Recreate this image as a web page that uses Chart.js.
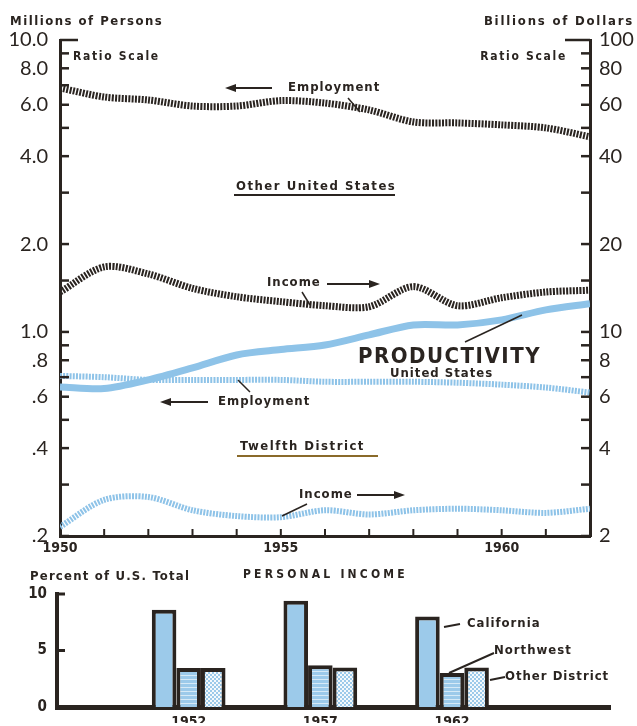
<!DOCTYPE html>
<html>
<head>
<meta charset="utf-8">
<script src="https://cdn.jsdelivr.net/npm/chart.js@4.4.0/dist/chart.umd.min.js"></script>
<style>
  html, body { margin: 0; padding: 0; background: #fff; }
  #wrap { position: relative; width: 637px; height: 726px; overflow: hidden; }
  #topChart { position: absolute; left: 0; top: 0; }
  #barChart { position: absolute; left: 0; top: 560px; }
</style>
</head>
<body>
<div id="wrap">
  <canvas id="topChart" width="637" height="560"></canvas>
  <canvas id="barChart" width="637" height="166"></canvas>
</div>
<script>
// --- data: line chart (ratio scale) ---
const years = [1950, 1951, 1952, 1953, 1954, 1955, 1956, 1957, 1958, 1959, 1960, 1961, 1962];
// millions of persons (left scale)
const otherEmployment = [6.85, 6.38, 6.23, 5.94, 5.94, 6.2, 6.08, 5.76, 5.24, 5.2, 5.12, 5.0, 4.66];
const twelfthEmployment = [0.707, 0.70, 0.685, 0.685, 0.685, 0.685, 0.675, 0.675, 0.675, 0.67, 0.66, 0.645, 0.62];
const usProductivity = [0.648, 0.64, 0.685, 0.753, 0.834, 0.87, 0.902, 0.977, 1.057, 1.057, 1.10, 1.19, 1.25];
// billions of dollars (right scale)
const otherIncome = [13.7, 16.7, 15.8, 14.1, 13.2, 12.7, 12.3, 12.2, 14.3, 12.3, 13.1, 13.7, 13.9];
const twelfthIncome = [2.15, 2.66, 2.72, 2.45, 2.34, 2.32, 2.45, 2.37, 2.45, 2.48, 2.45, 2.4, 2.48];

// tick labels
const leftTicks = [0.2, 0.3, 0.4, 0.5, 0.6, 0.7, 0.8, 0.9, 1, 1.5, 2, 3, 4, 5, 6, 7, 8, 9, 10];
const leftLabels = { 10: '10.0', 8: '8.0', 6: '6.0', 4: '4.0', 2: '2.0', 1: '1.0', 0.8: '.8', 0.6: '.6', 0.4: '.4', 0.2: '.2' };
const rightTicks = [2, 3, 4, 5, 6, 7, 8, 9, 10, 15, 20, 30, 40, 50, 60, 70, 80, 90, 100];
const rightLabels = { 100: '100', 80: '80', 60: '60', 40: '40', 20: '20', 10: '10', 8: '8', 6: '6', 4: '4', 2: '2' };
const yearLabels = [1950, 1955, 1960];

// --- data: personal income bars (percent of U.S. total) ---
const barYears = [1952, 1957, 1962];
const california = [8.6, 9.4, 8.0];
const northwest = [3.45, 3.7, 3.0];
const otherDistrict = [3.45, 3.5, 3.5];

const ink = '#2a2420';
const blue = '#8ec3e8';
const cond = "'DejaVu Sans Condensed', 'DejaVu Sans', sans-serif";
const numFont = "Lato, 'DejaVu Sans', sans-serif";

function text(ctx, s, x, y, font, align, spacing, color) {
  ctx.save();
  ctx.font = font;
  ctx.fillStyle = color || ink;
  ctx.textAlign = align || 'left';
  ctx.textBaseline = 'middle';
  ctx.letterSpacing = (spacing || 0) + 'px';
  ctx.fillText(s, x, y);
  ctx.restore();
}

function line(ctx, x1, y1, x2, y2, w, color) {
  ctx.save();
  ctx.strokeStyle = color || ink;
  ctx.lineWidth = w || 1.5;
  ctx.beginPath();
  ctx.moveTo(x1, y1);
  ctx.lineTo(x2, y2);
  ctx.stroke();
  ctx.restore();
}

function arrow(ctx, x1, y, x2) {
  const dir = x2 > x1 ? 1 : -1;
  line(ctx, x1, y, x2 - dir * 8, y, 2);
  ctx.save();
  ctx.fillStyle = ink;
  ctx.beginPath();
  ctx.moveTo(x2, y);
  ctx.lineTo(x2 - dir * 11, y - 4);
  ctx.lineTo(x2 - dir * 11, y + 4);
  ctx.closePath();
  ctx.fill();
  ctx.restore();
}

// tick marks pointing into the plot, plus the text notes
const topDecor = {
  id: 'topDecor',
  afterDraw(chart) {
    const ctx = chart.ctx;
    const a = chart.chartArea;
    const yl = chart.scales.y;
    const x = chart.scales.x;

    leftTicks.forEach(v => {
      const py = yl.getPixelForValue(v);
      line(ctx, a.left, py, a.left + (v === 10 ? 18 : 9), py, 2.5);
      line(ctx, a.right - (v === 10 ? 25 : 9), py, a.right, py, 2.5);
    });
    years.forEach(v => {
      const px = x.getPixelForValue(v);
      line(ctx, px, a.bottom, px, a.bottom - 7, 2);
    });

    text(ctx, 'Millions of Persons', 10, 22, 'bold 13px ' + cond, 'left', 1.5);
    text(ctx, 'Billions of Dollars', 634, 22, 'bold 13px ' + cond, 'right', 1.8);
    text(ctx, 'Ratio Scale', 73, 57, 'bold 12px ' + cond, 'left', 1.7);
    text(ctx, 'Ratio Scale', 567, 57, 'bold 12px ' + cond, 'right', 1.7);

    const lab = 'bold 13px ' + cond;
    arrow(ctx, 272, 88, 225);
    text(ctx, 'Employment', 288, 88, lab, 'left', 1);
    line(ctx, 348, 98, 360, 112);

    text(ctx, 'Other United States', 236, 187, lab, 'left', 1.5);
    line(ctx, 234, 195, 395, 195, 2);

    text(ctx, 'Income', 267, 283, lab, 'left', 1);
    arrow(ctx, 327, 284, 380);
    line(ctx, 302, 292, 310, 305);

    text(ctx, 'PRODUCTIVITY', 358, 357, 'bold 22px ' + cond, 'left', 1.5);
    text(ctx, 'United States', 390, 374, lab, 'left', 1);
    line(ctx, 465, 342, 522, 315);

    arrow(ctx, 208, 402, 160);
    text(ctx, 'Employment', 218, 402, lab, 'left', 1);
    line(ctx, 238, 380, 250, 392);

    text(ctx, 'Twelfth District', 240, 447, lab, 'left', 1.5);
    line(ctx, 237, 456, 378, 456, 2, '#8a6a2a');

    text(ctx, 'Income', 299, 495, lab, 'left', 1);
    arrow(ctx, 357, 495, 405);
    line(ctx, 307, 504, 282, 516);
  }
};

const series = (data, axis, color, dash, width) => ({
  data: years.map((yr, i) => ({ x: yr, y: data[i] })),
  yAxisID: axis,
  borderColor: color,
  borderWidth: width,
  borderDash: dash,
  pointRadius: 0,
  tension: 0.3,
  fill: false
});

new Chart(document.getElementById('topChart'), {
  type: 'line',
  data: {
    datasets: [
      series(otherEmployment, 'y', ink, [2, 1.3], 7),
      series(otherIncome, 'y1', ink, [2, 1.3], 7),
      series(usProductivity, 'y', blue, [], 7),
      series(twelfthEmployment, 'y', blue, [2, 1.2], 6),
      series(twelfthIncome, 'y1', blue, [2, 1.2], 6)
    ]
  },
  options: {
    responsive: false,
    animation: false,
    layout: { padding: { top: 40, left: 0, right: 0, bottom: 0 } },
    plugins: { legend: { display: false }, tooltip: { enabled: false } },
    scales: {
      x: {
        type: 'linear',
        min: 1950,
        max: 1962,
        afterBuildTicks: s => { s.ticks = yearLabels.map(v => ({ value: v })); },
        afterFit: s => { s.height = 24; },
        grid: { display: false, drawTicks: false },
        border: { display: true, color: ink, width: 3 },
        ticks: { padding: 4, color: ink, font: { family: cond, size: 14, weight: 'bold' }, maxRotation: 0, callback: v => String(v) }
      },
      y: {
        type: 'logarithmic',
        position: 'left',
        min: 0.2,
        max: 10,
        afterBuildTicks: s => { s.ticks = leftTicks.map(v => ({ value: v })); },
        afterFit: s => { s.width = 60; },
        grid: { display: false, drawTicks: false },
        border: { display: true, color: ink, width: 3 },
        ticks: { autoSkip: false, padding: 12, color: ink, font: { family: numFont, size: 20 }, callback: v => leftLabels[v] || '' }
      },
      y1: {
        type: 'logarithmic',
        position: 'right',
        min: 2,
        max: 100,
        afterBuildTicks: s => { s.ticks = rightTicks.map(v => ({ value: v })); },
        afterFit: s => { s.width = 47; },
        grid: { display: false, drawTicks: false },
        border: { display: true, color: ink, width: 3 },
        ticks: { autoSkip: false, padding: 9, color: ink, font: { family: numFont, size: 20 }, callback: v => rightLabels[v] || '' }
      }
    }
  },
  plugins: [topDecor]
});

// --- bar chart fills ---
function makePattern(w, h, draw) {
  const c = document.createElement('canvas');
  c.width = w;
  c.height = h;
  draw(c.getContext('2d'));
  return document.getElementById('barChart').getContext('2d').createPattern(c, 'repeat');
}
const lineFill = makePattern(4, 4, g => {
  g.fillStyle = '#9ccaea'; g.fillRect(0, 0, 4, 4);
  g.fillStyle = '#d6eaf7'; g.fillRect(0, 3, 4, 1);
});
const dotFill = makePattern(4, 4, g => {
  g.fillStyle = '#f4f9fc'; g.fillRect(0, 0, 4, 4);
  g.fillStyle = '#9ccaea'; g.fillRect(0, 0, 2, 2); g.fillRect(2, 2, 2, 2);
});

const barDecor = {
  id: 'barDecor',
  afterDraw(chart) {
    const ctx = chart.ctx;
    const a = chart.chartArea;
    const y = chart.scales.y;
    [5, 10].forEach(v => line(ctx, a.left, y.getPixelForValue(v), a.left + 8, y.getPixelForValue(v), 3));
    text(ctx, 'Percent of U.S. Total', 30, 17, 'bold 13px ' + cond, 'left', 1.2);
    text(ctx, 'PERSONAL INCOME', 243, 15, 'bold 12px ' + cond, 'left', 3.2);
    const lab = 'bold 13px ' + cond;
    line(ctx, 444, 67, 460, 64, 2);
    text(ctx, 'California', 467, 64, lab, 'left', 1);
    line(ctx, 449, 113, 494, 93, 2);
    text(ctx, 'Northwest', 494, 91, lab, 'left', 1);
    line(ctx, 490, 120, 505, 117, 2);
    text(ctx, 'Other District', 505, 117, lab, 'left', 1);
  }
};

const barSet = (data, fill) => ({
  data: barYears.map((yr, i) => ({ x: yr, y: data[i] })),
  backgroundColor: fill,
  borderColor: ink,
  borderWidth: 4,
  barPercentage: 1,
  categoryPercentage: 0.56
});

new Chart(document.getElementById('barChart'), {
  type: 'bar',
  data: {
    datasets: [
      barSet(california, '#9ccaea'),
      barSet(northwest, lineFill),
      barSet(otherDistrict, dotFill)
    ]
  },
  options: {
    responsive: false,
    animation: false,
    layout: { padding: { top: 34, left: 0, right: 27, bottom: 0 } },
    plugins: { legend: { display: false }, tooltip: { enabled: false } },
    scales: {
      x: {
        type: 'linear',
        offset: false,
        min: 1947,
        max: 1968,
        afterBuildTicks: s => { s.ticks = barYears.map(v => ({ value: v })); },
        afterFit: s => { s.height = 16; },
        grid: { display: false, drawTicks: false, offset: false },
        border: { display: true, color: ink, width: 5 },
        ticks: { padding: 7, color: ink, font: { family: cond, size: 14, weight: 'bold' }, maxRotation: 0, callback: v => String(v) }
      },
      y: {
        min: 0,
        max: 10,
        afterBuildTicks: s => { s.ticks = [0, 5, 10].map(v => ({ value: v })); },
        afterFit: s => { s.width = 57; },
        grid: { display: false, drawTicks: false },
        border: { display: true, color: ink, width: 4 },
        ticks: { padding: 10, color: ink, font: { family: cond, size: 15, weight: 'bold' } }
      }
    }
  },
  plugins: [barDecor]
});
</script>
</body>
</html>
